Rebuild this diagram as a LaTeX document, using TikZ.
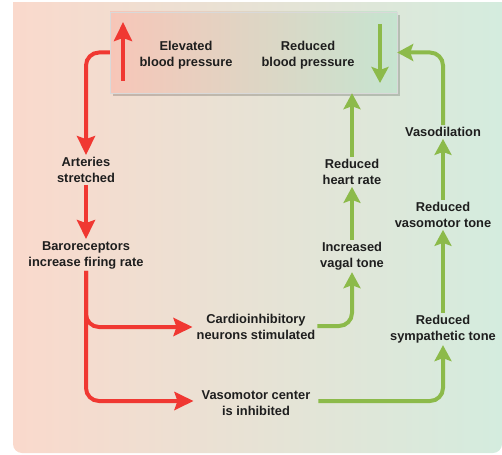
\documentclass[tikz,border=0pt]{standalone}
\usepackage{fontspec}
\setmainfont{Liberation Sans}
\usetikzlibrary{arrows.meta,positioning,shadows}
\definecolor{pressred}{RGB}{240,56,50}
\definecolor{relaxgreen}{RGB}{140,186,74}
\definecolor{bgpink}{RGB}{250,217,204}
\definecolor{bgbeige}{RGB}{236,226,211}
\definecolor{bgmint}{RGB}{212,236,222}
\definecolor{boxpink}{RGB}{247,198,184}
\definecolor{boxbeige}{RGB}{226,214,193}
\definecolor{boxmint}{RGB}{198,228,208}
\definecolor{inkgray}{RGB}{30,30,30}

\begin{document}
\begin{tikzpicture}[x=1bp, y=-1bp,
    every node/.style={font=\fontsize{12.9}{16}\selectfont\bfseries, text=inkgray, align=center, inner sep=2bp},
    redflow/.style={draw=pressred, line width=4bp, rounded corners=13bp, -{Stealth[length=19bp,width=18bp,inset=3bp]}},
    greenflow/.style={draw=relaxgreen, line width=4bp, rounded corners=13bp, -{Stealth[length=16bp,width=17bp,inset=3bp]}}]
        \useasboundingbox (0,0) rectangle (502,455);
        \begin{scope}
          \clip (0,3) rectangle (502,455);
          \shade[left color=bgpink, middle color=bgbeige, right color=bgmint, rounded corners=9bp] (13,-12) rectangle (502,453);
        \end{scope}
        \node[minimum width=287bp, minimum height=81bp, inner sep=0pt, left color=boxpink, middle color=boxbeige, right color=boxmint, draw=white!70!gray, thin, drop shadow={shadow xshift=3bp, shadow yshift=-3bp, fill=black, opacity=0.18}] (bpbox) at (253.5,52.5) {};
        \node (elevated) at (186,55) {Elevated\\blood pressure};
        \node (reduced) at (308,55) {Reduced\\blood pressure};
        \coordinate (uplow) at (123,81);
        \coordinate (uptop) at (123,22);
        \coordinate (downtop) at (380,24);
        \coordinate (downlow) at (380,83);
        \draw[redflow] (uplow) -- (uptop);
        \draw[greenflow] (downtop) -- (downlow);
        \node (arteries) at (86,170) {Arteries\\stretched};
        \node (baro) at (86,255) {Baroreceptors\\increase firing rate};
        \node (cardio) at (256,327) {Cardioinhibitory\\neurons stimulated};
        \node (vasocenter) at (256,403) {Vasomotor center\\is inhibited};
        \node (vagal) at (352,256) {Increased\\vagal tone};
        \node (heart) at (352,172) {Reduced\\heart rate};
        \node (sympath) at (443,329) {Reduced\\sympathetic tone};
        \node (vmtone) at (443,215) {Reduced\\vasomotor tone};
        \node (vasodil) at (443,132) {Vasodilation};
        % sensing side
        \draw[redflow] (bpbox.west) -| (arteries.north);
        \draw[redflow] (arteries) -- (baro);
        \draw[redflow] (baro.south) |- ([xshift=-2bp]cardio.west);
        \draw[redflow] (baro.south) |- ([xshift=-6bp,yshift=2bp]vasocenter.west);
        % response side
        \draw[greenflow] ([yshift=1bp]cardio.east) -| (vagal.south);
        \draw[greenflow] (vagal) -- (heart);
        \draw[greenflow] (heart.north) -- (heart.north |- bpbox.south);
        \draw[greenflow] ([xshift=6bp,yshift=2bp]vasocenter.east) -| (sympath.south);
        \draw[greenflow] (sympath) -- (vmtone);
        \draw[greenflow] (vmtone) -- (vasodil);
        \draw[greenflow] (vasodil.north) |- (bpbox.east);
      \end{tikzpicture}
\end{document}
